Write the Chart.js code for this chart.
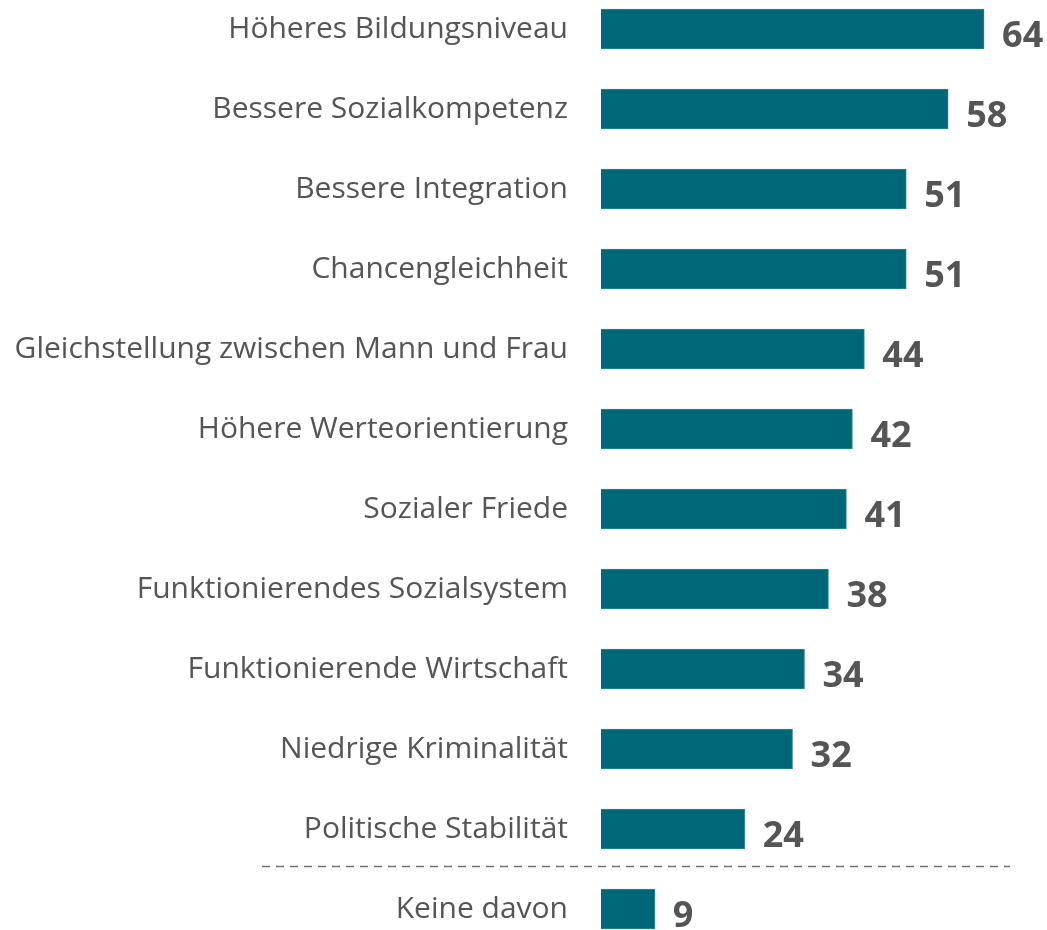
<!DOCTYPE html>
<html>
<head>
<meta charset="utf-8">
<script src="https://cdn.jsdelivr.net/npm/chart.js@4"></script>
<style>
html,body{margin:0;padding:0;background:#fff;overflow:hidden;}
canvas{display:block;}
</style>
</head>
<body>
<canvas id="c" width="1047" height="930"></canvas>
<script>
const categories = [
  "Höheres Bildungsniveau",
  "Bessere Sozialkompetenz",
  "Bessere Integration",
  "Chancengleichheit",
  "Gleichstellung zwischen Mann und Frau",
  "Höhere Werteorientierung",
  "Sozialer Friede",
  "Funktionierendes Sozialsystem",
  "Funktionierende Wirtschaft",
  "Niedrige Kriminalität",
  "Politische Stabilität",
  "Keine davon"
];
const values = [64, 58, 51, 51, 44, 42, 41, 38, 34, 32, 24, 9];

const valueLabels = {
  id: 'valueLabels',
  afterDatasetsDraw(chart) {
    const ctx = chart.ctx;
    const meta = chart.getDatasetMeta(0);
    ctx.save();
    ctx.font = 'bold 36px "Open Sans"';
    ctx.fillStyle = '#555555';
    ctx.textAlign = 'left';
    ctx.textBaseline = 'middle';
    meta.data.forEach((bar, i) => {
      ctx.fillText(String(values[i]), bar.x + 18, bar.y + 8);
    });
    ctx.restore();
  }
};

const separator = {
  id: 'separator',
  afterDraw(chart) {
    const ctx = chart.ctx;
    const y = chart.scales.y;
    const yy = (y.getPixelForValue(10) + y.getPixelForValue(11)) / 2 - 3;
    ctx.save();
    ctx.strokeStyle = '#6f6f6f';
    ctx.lineWidth = 1.5;
    ctx.setLineDash([8, 6]);
    ctx.beginPath();
    ctx.moveTo(262, Math.round(yy) + 0.5);
    ctx.lineTo(1010, Math.round(yy) + 0.5);
    ctx.stroke();
    ctx.restore();
  }
};

new Chart(document.getElementById('c'), {
  type: 'bar',
  data: {
    labels: categories,
    datasets: [{
      data: values,
      backgroundColor: '#006778',
      borderColor: '#2a8593',
      borderWidth: 1,
      barThickness: 40,
      clip: false
    }]
  },
  options: {
    indexAxis: 'y',
    responsive: false,
    animation: false,
    layout: { padding: { top: 29, bottom: 21, left: 10, right: 27 } },
    plugins: { legend: { display: false }, tooltip: { enabled: false } },
    scales: {
      x: { display: false, min: 0, max: 70 },
      y: {
        type: 'category',
        offset: false,
        grid: { display: false, drawTicks: false },
        border: { display: false },
        ticks: {
          color: '#555555',
          font: { family: '"Open Sans"', size: 30 },
          padding: 33
        },
        afterFit(scale) {
          scale.width = 591;
          scale.paddingTop = 0;
          scale.paddingBottom = 0;
        }
      }
    }
  },
  plugins: [valueLabels, separator]
});
</script>
</body>
</html>
